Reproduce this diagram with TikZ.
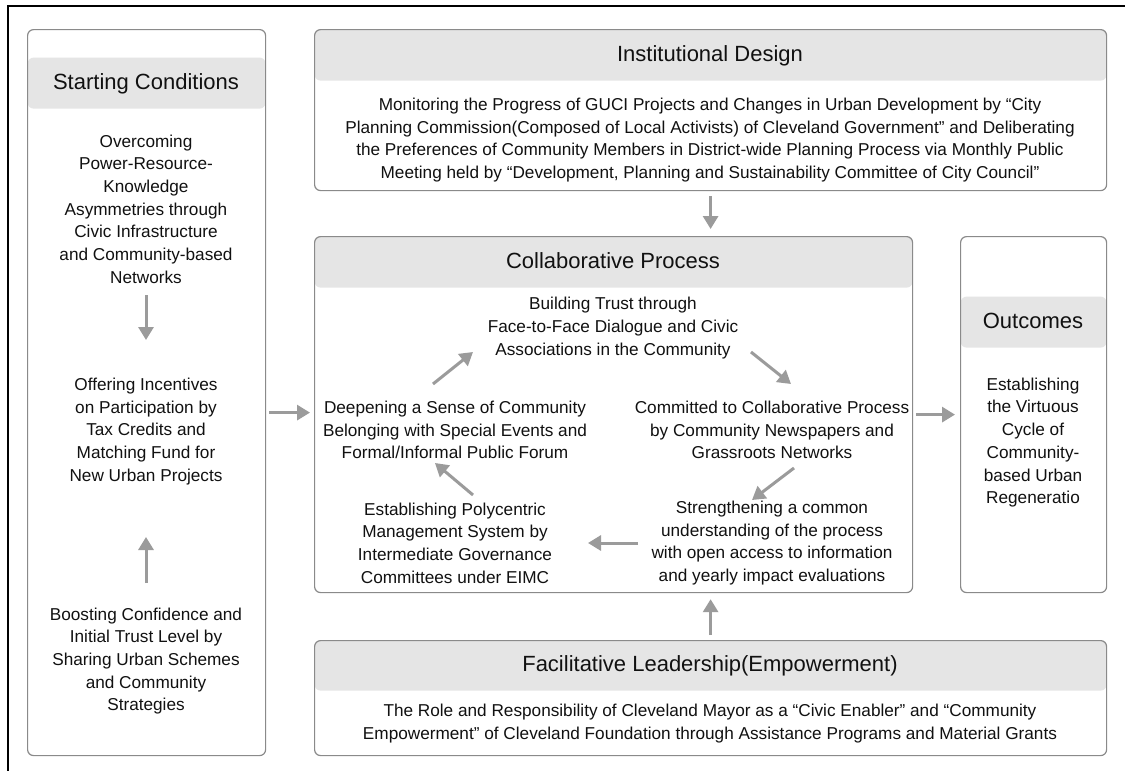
\documentclass[tikz,border=0pt]{standalone}
\usepackage{fontspec}
\setmainfont{Liberation Sans}
\usetikzlibrary{arrows.meta}
\definecolor{edgegray}{HTML}{8A8A8A}
\definecolor{bandgray}{HTML}{E5E5E5}
\definecolor{arrowgray}{HTML}{9B9B9B}
\definecolor{ink}{HTML}{111111}
\begin{document}
\begin{tikzpicture}[x=1pt,y=-1pt,
  panel/.style={draw=edgegray, line width=1.2pt, rounded corners=6pt, fill=white,
    anchor=north west, inner sep=0pt},
  band/.style 2 args={path picture={\fill[bandgray]
    ([yshift=-#1pt]path picture bounding box.north west) rectangle
    ([yshift=-#2pt]path picture bounding box.north east);}},
  head/.style={font=\fontsize{22}{26}\selectfont, text=ink, inner sep=0pt,
    text height=16pt, text depth=4pt},
  body/.style={font=\fontsize{17.2}{22.7}\selectfont, text=ink, align=center, inner sep=0pt},
  flow/.style={draw=arrowgray, line width=3pt, -{Triangle[length=13pt,width=15pt]}},
]
\useasboundingbox (0,0) rectangle (1125,771);
\fill[white] (0,0) rectangle (1125,771);
\draw[black, line width=1.6pt] (8,771) -- (8,6) -- (1125,6);

% panels with grey title bands
\node[panel, band={28}{79}, minimum width=238pt, minimum height=726pt] (sc) at (27,29) {};
\node[panel, band={0}{51}, minimum width=792pt, minimum height=161pt] (id) at (314,29) {};
\node[panel, band={0}{51}, minimum width=598pt, minimum height=356pt] (cp) at (314,236) {};
\node[panel, band={60}{111}, minimum width=146pt, minimum height=356pt] (oc) at (960,236) {};
\node[panel, band={0}{50}, minimum width=792pt, minimum height=115pt] (fl) at (314,640) {};

% titles
\node[head] (sch) at (146,83) {Starting Conditions};
\node[head] (idh) at (710,55) {Institutional Design};
\node[head] (cph) at (613,262) {Collaborative Process};
\node[head] (och) at (1033,322) {Outcomes};
\node[head] (flh) at (710,665) {Facilitative Leadership(Empowerment)};

% starting conditions
\node[body] (t1) at (146,209) {Overcoming\\Power-Resource-\\Knowledge\\Asymmetries through\\Civic Infrastructure\\and Community-based\\Networks};
\node[body] (t2) at (146,431.5) {Offering Incentives\\on Participation by\\Tax Credits and\\Matching Fund for\\New Urban Projects};
\node[body] (t3) at (146,661) {Boosting Confidence and\\Initial Trust Level by\\Sharing Urban Schemes\\and Community\\Strategies};

% institutional design
\node[body] (idb) at (710,140) {Monitoring the Progress of GUCI Projects and Changes in Urban Development by “City\\Planning Commission(Composed of Local Activists) of Cleveland Government” and Deliberating\\the Preferences of Community Members in District-wide Planning Process via Monthly Public\\Meeting held by “Development, Planning and Sustainability Committee of City Council”};

% collaborative cycle
\node[body] (c1) at (613,328) {Building Trust through\\Face-to-Face Dialogue and Civic\\Associations in the Community};
\node[body] (c2) at (772,430) {Committed to Collaborative Process\\by Community Newspapers and\\Grassroots Networks};
\node[body] (c3) at (772,543) {Strengthening a common\\understanding of the process\\with open access to information\\and yearly impact evaluations};
\node[body] (c4) at (455,543) {Establishing Polycentric\\Management System by\\Intermediate Governance\\Committees under EIMC};
\node[body] (c5) at (455,430) {Deepening a Sense of Community\\Belonging with Special Events and\\Formal/Informal Public Forum};

% outcomes
\node[body] (ocb) at (1033,442.5) {Establishing\\the Virtuous\\Cycle of\\Community-\\based Urban\\Regeneratio};

% facilitative leadership
\node[body] (flb) at (710,723.5) {The Role and Responsibility of Cleveland Mayor as a “Civic Enabler” and “Community\\Empowerment” of Cleveland Foundation through Assistance Programs and Material Grants};

% arrows between panels and statements
\draw[flow] ([shift={(0,86)}]t1.center) -- ([shift={(0,-91.5)}]t2.center);
\draw[flow] ([shift={(0,-78)}]t3.center) -- ([shift={(0,105.5)}]t2.center);
\draw[flow, shorten <=3pt, shorten >=4pt] ([yshift=-20pt]sc.east) -- ([yshift=-20pt]sc.east -| cp.west);
\draw[flow, shorten <=3pt, shorten >=5pt] (cp.east) -- (oc.west);
\draw[flow, shorten <=5pt, shorten >=7pt] (id.south) -- (id.south |- cp.north);
\draw[flow, shorten <=5pt, shorten >=6pt] (fl.north) -- (fl.north |- cp.south);

% collaborative cycle arrows
\draw[flow] ([shift={(-22,-46)}]c5.center) -- ([shift={(-140,24)}]c1.center);
\draw[flow] ([shift={(138,24)}]c1.center) -- ([shift={(19,-46)}]c2.center);
\draw[flow] ([shift={(22,38)}]c2.center) -- ([shift={(-20,-43)}]c3.center);
\draw[flow] ([shift={(-134,0)}]c3.center) -- ([shift={(133,0)}]c4.center);
\draw[flow] ([shift={(18,-48)}]c4.center) -- ([shift={(-20,33)}]c5.center);
\end{tikzpicture}
\end{document}
